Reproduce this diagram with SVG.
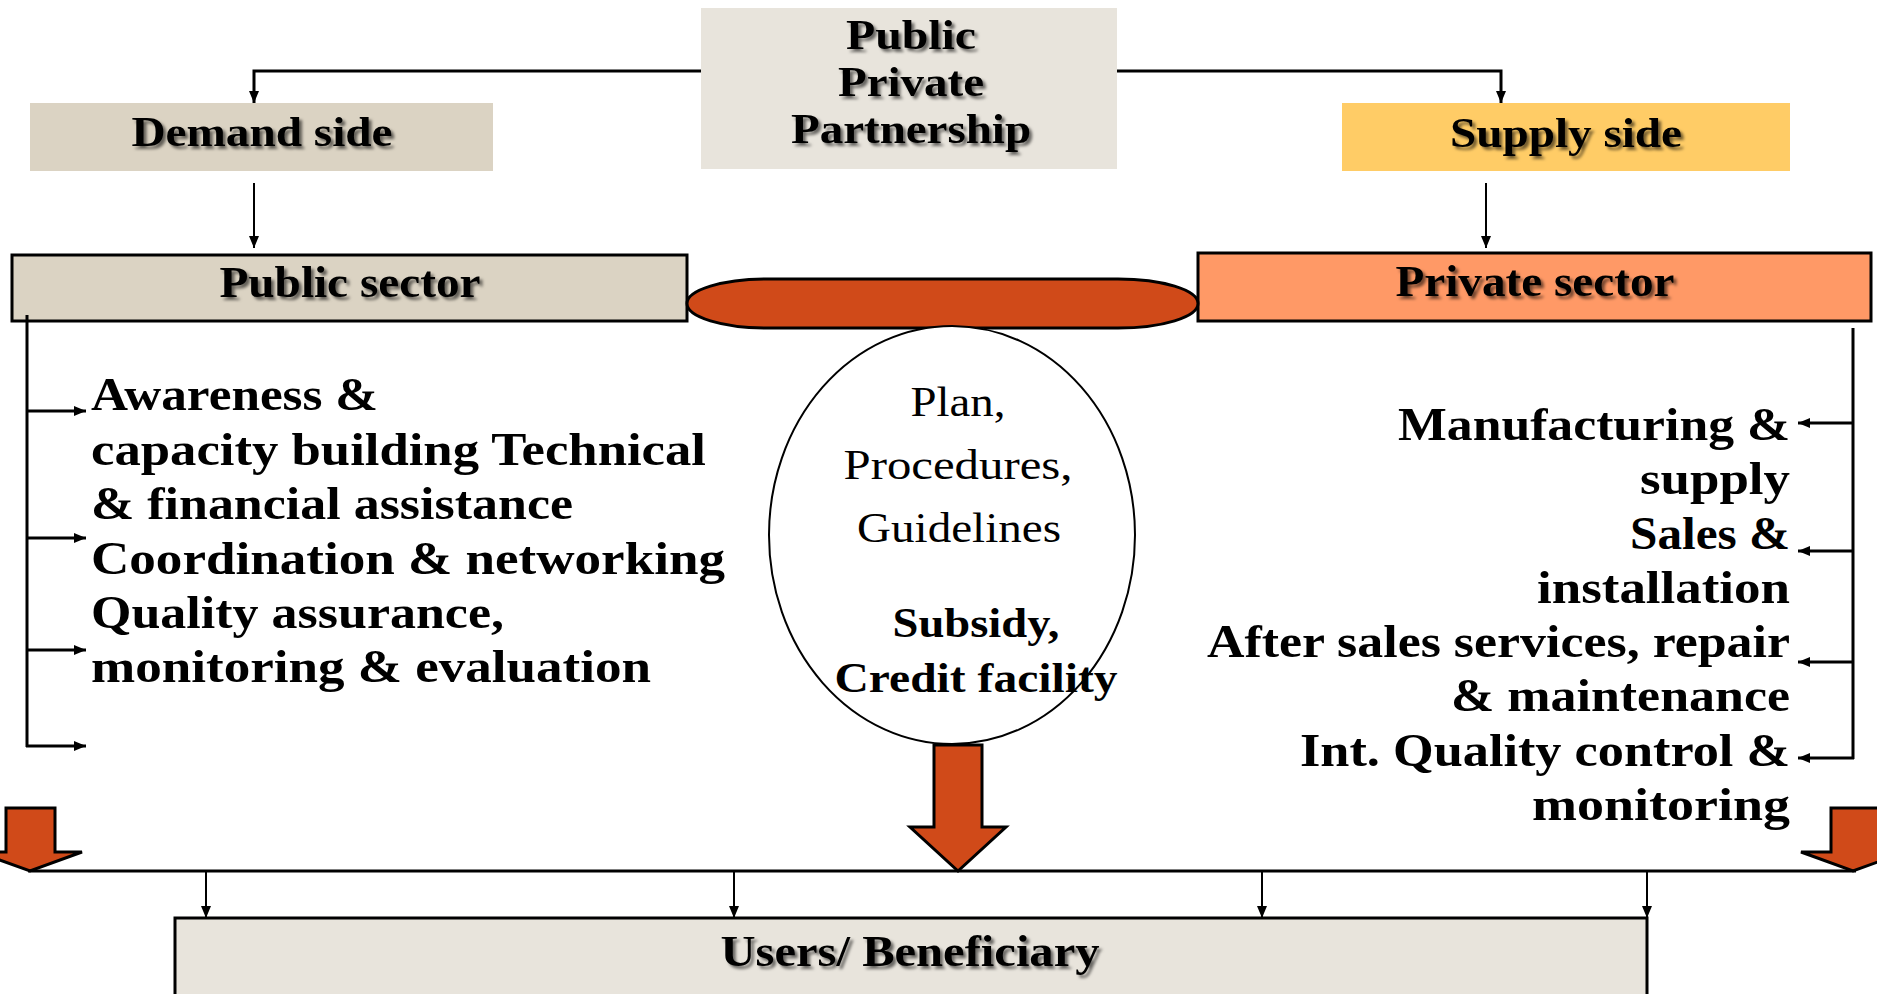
<svg xmlns="http://www.w3.org/2000/svg" width="1877" height="994" viewBox="0 0 1877 994">
<defs>
<marker id="ah" markerUnits="userSpaceOnUse" markerWidth="12" markerHeight="10" refX="12" refY="5" orient="auto"><path d="M0,0 L12,5 L0,10 z" fill="#000"/></marker>
<filter id="sh" x="-10%" y="-30%" width="120%" height="160%"><feDropShadow dx="3" dy="3" stdDeviation="1.6" flood-color="#000" flood-opacity="0.55"/></filter>
<style>
.t{font-family:"Liberation Serif",serif;fill:#000}
.b{font-weight:bold}
.hd{font-weight:bold;filter:url(#sh)}
.box{stroke:#000;stroke-width:3}
.ln{stroke:#000;stroke-width:2;fill:none}
.lw{stroke:#000;stroke-width:3;fill:none}
.or{fill:#d04a19;stroke:#000;stroke-width:3;stroke-linejoin:miter}
</style>
</defs>
<rect width="1877" height="994" fill="#fff"/>

<g id="ppp">
<rect x="701" y="8" width="416" height="161" fill="#e8e4dc"/>
<text class="t hd" x="911" y="49" font-size="42" text-anchor="middle" textLength="130" lengthAdjust="spacingAndGlyphs">Public</text>
<text class="t hd" x="911" y="96" font-size="42" text-anchor="middle" textLength="146" lengthAdjust="spacingAndGlyphs">Private</text>
<text class="t hd" x="911" y="143" font-size="42" text-anchor="middle" textLength="240" lengthAdjust="spacingAndGlyphs">Partnership</text>
</g>

<g id="demand">
<rect x="30" y="103" width="463" height="68" fill="#dbd3c3"/>
<text class="t hd" x="262" y="146" font-size="42" text-anchor="middle" textLength="261" lengthAdjust="spacingAndGlyphs">Demand side</text>
</g>

<g id="supply">
<rect x="1342" y="103" width="448" height="68" fill="#ffcc66"/>
<text class="t hd" x="1566" y="147" font-size="42" text-anchor="middle" textLength="232" lengthAdjust="spacingAndGlyphs">Supply side</text>
</g>

<g id="public-sector">
<rect class="box" x="12" y="255" width="675" height="66" fill="#dbd3c3"/>
<text class="t hd" x="350" y="297" font-size="44" text-anchor="middle" textLength="261" lengthAdjust="spacingAndGlyphs">Public sector</text>
</g>

<g id="private-sector">
<rect class="box" x="1198" y="253" width="673" height="68" fill="#ff9966"/>
<text class="t hd" x="1535" y="296" font-size="44" text-anchor="middle" textLength="279" lengthAdjust="spacingAndGlyphs">Private sector</text>
</g>

<g id="bar">
<rect x="687" y="279" width="511" height="49" rx="80" ry="24.5" fill="#d04a19" stroke="#000" stroke-width="3"/>
</g>

<g id="policy">
<ellipse cx="952" cy="535" rx="183" ry="209" fill="#fff" stroke="#000" stroke-width="2"/>
<text class="t" x="958" y="416" font-size="42" text-anchor="middle" textLength="95" lengthAdjust="spacingAndGlyphs">Plan,</text>
<text class="t" x="958" y="479" font-size="42" text-anchor="middle" textLength="229" lengthAdjust="spacingAndGlyphs">Procedures,</text>
<text class="t" x="959" y="542" font-size="42" text-anchor="middle" textLength="204" lengthAdjust="spacingAndGlyphs">Guidelines</text>
<text class="t b" x="976" y="637" font-size="42" text-anchor="middle" textLength="167" lengthAdjust="spacingAndGlyphs">Subsidy,</text>
<text class="t b" x="976" y="692" font-size="42" text-anchor="middle" textLength="283" lengthAdjust="spacingAndGlyphs">Credit facility</text>
</g>

<g id="public-activities">
<text class="t b" x="91" y="410" font-size="46" textLength="287" lengthAdjust="spacingAndGlyphs">Awareness &amp;</text>
<text class="t b" x="91" y="465" font-size="46" textLength="615" lengthAdjust="spacingAndGlyphs">capacity building Technical</text>
<text class="t b" x="91" y="519" font-size="46" textLength="482" lengthAdjust="spacingAndGlyphs">&amp; financial assistance</text>
<text class="t b" x="91" y="574" font-size="46" textLength="634" lengthAdjust="spacingAndGlyphs">Coordination &amp; networking</text>
<text class="t b" x="91" y="628" font-size="46" textLength="413" lengthAdjust="spacingAndGlyphs">Quality assurance,</text>
<text class="t b" x="91" y="682" font-size="46" textLength="560" lengthAdjust="spacingAndGlyphs">monitoring &amp; evaluation</text>
</g>

<g id="private-activities">
<text class="t b" x="1790" y="440" font-size="46" text-anchor="end" textLength="392" lengthAdjust="spacingAndGlyphs">Manufacturing &amp;</text>
<text class="t b" x="1790" y="494" font-size="46" text-anchor="end" textLength="150" lengthAdjust="spacingAndGlyphs">supply</text>
<text class="t b" x="1790" y="549" font-size="46" text-anchor="end" textLength="160" lengthAdjust="spacingAndGlyphs">Sales &amp;</text>
<text class="t b" x="1790" y="603" font-size="46" text-anchor="end" textLength="253" lengthAdjust="spacingAndGlyphs">installation</text>
<text class="t b" x="1790" y="657" font-size="46" text-anchor="end" textLength="583" lengthAdjust="spacingAndGlyphs">After sales services, repair</text>
<text class="t b" x="1790" y="711" font-size="46" text-anchor="end" textLength="339" lengthAdjust="spacingAndGlyphs">&amp; maintenance</text>
<text class="t b" x="1790" y="766" font-size="46" text-anchor="end" textLength="490" lengthAdjust="spacingAndGlyphs">Int. Quality control &amp;</text>
<text class="t b" x="1790" y="820" font-size="46" text-anchor="end" textLength="258" lengthAdjust="spacingAndGlyphs">monitoring</text>
</g>

<g id="users">
<rect class="box" x="175" y="918" width="1472" height="90" fill="#e8e4dc"/>
<text class="t hd" x="910" y="966" font-size="44" text-anchor="middle" textLength="379" lengthAdjust="spacingAndGlyphs">Users/ Beneficiary</text>
</g>

<g id="connectors">
<polyline class="lw" points="701,71 254,71 254,103" marker-end="url(#ah)"/>
<polyline class="lw" points="1117,71 1501,71 1501,103" marker-end="url(#ah)"/>
<line class="ln" x1="254" y1="183" x2="254" y2="248" marker-end="url(#ah)"/>
<line class="ln" x1="1486" y1="183" x2="1486" y2="248" marker-end="url(#ah)"/>

<line class="lw" x1="27" y1="315" x2="27" y2="747"/>
<line class="lw" x1="26" y1="411" x2="86" y2="411" marker-end="url(#ah)"/>
<line class="lw" x1="26" y1="538" x2="86" y2="538" marker-end="url(#ah)"/>
<line class="lw" x1="26" y1="650" x2="86" y2="650" marker-end="url(#ah)"/>
<line class="lw" x1="26" y1="746" x2="86" y2="746" marker-end="url(#ah)"/>

<line class="lw" x1="1853" y1="328" x2="1853" y2="759"/>
<line class="lw" x1="1854" y1="423" x2="1798" y2="423" marker-end="url(#ah)"/>
<line class="lw" x1="1854" y1="551" x2="1798" y2="551" marker-end="url(#ah)"/>
<line class="lw" x1="1854" y1="662" x2="1798" y2="662" marker-end="url(#ah)"/>
<line class="lw" x1="1854" y1="758" x2="1798" y2="758" marker-end="url(#ah)"/>

<path class="or" d="M6,808 L55,808 L55,852 L82,852 L30,871 L-22,852 L6,852 Z"/>
<path class="or" d="M934,745 L982,745 L982,827 L1006,827 L958,871 L910,827 L934,827 Z"/>
<path class="or" d="M1831,808 L1880,808 L1880,852 L1905,852 L1853,871 L1801,852 L1831,852 Z"/>

<line class="lw" x1="28" y1="871" x2="1856" y2="871"/>
<line class="ln" x1="206" y1="872" x2="206" y2="918" marker-end="url(#ah)"/>
<line class="ln" x1="734" y1="872" x2="734" y2="918" marker-end="url(#ah)"/>
<line class="ln" x1="1262" y1="872" x2="1262" y2="918" marker-end="url(#ah)"/>
<line class="ln" x1="1647" y1="872" x2="1647" y2="918" marker-end="url(#ah)"/>
</g>
</svg>
